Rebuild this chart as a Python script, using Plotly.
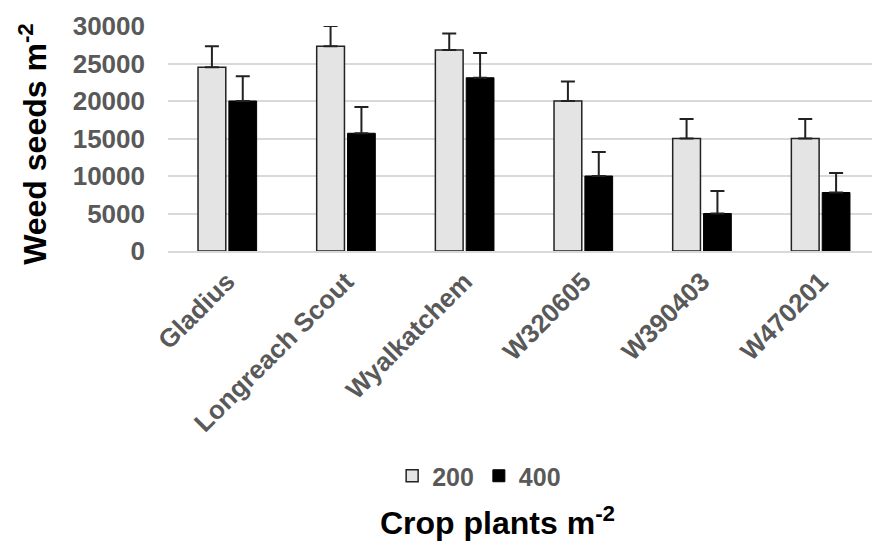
import plotly.graph_objects as go

cultivars = ["Gladius", "Longreach Scout", "Wyalkatchem", "W320605", "W390403", "W470201"]
seeds_200 = [24500, 27300, 26800, 20000, 15000, 15000]
err_200 = [2800, 2700, 2200, 2600, 2600, 2600]
seeds_400 = [20000, 15700, 23100, 10000, 5000, 7800]
err_400 = [3300, 3500, 3300, 3200, 3000, 2600]
y_ticks = [0, 5000, 10000, 15000, 20000, 25000, 30000]

FONT = "Liberation Sans, Arial, sans-serif"
GRAY = "#595959"

fig = go.Figure()
fig.add_trace(go.Bar(
    name="200", x=cultivars, y=seeds_200,
    marker=dict(color="#e4e4e4", line=dict(color="#222222", width=1.5)),
    error_y=dict(type="data", array=err_200, arrayminus=[0] * len(err_200),
                 symmetric=False, color="#222222", thickness=2, width=7),
))
fig.add_trace(go.Bar(
    name="400", x=cultivars, y=seeds_400,
    marker=dict(color="#000000", line=dict(color="#000000", width=1)),
    error_y=dict(type="data", array=err_400, arrayminus=[0] * len(err_400),
                 symmetric=False, color="#222222", thickness=2, width=7),
))

fig.update_layout(
    width=872, height=537,
    margin=dict(l=160, r=0, t=18, b=294),
    paper_bgcolor="white", plot_bgcolor="white",
    barmode="group", bargap=0.48, bargroupgap=0.1,
    font=dict(family=FONT, color=GRAY, size=24),
    showlegend=True,
    legend=dict(orientation="h", x=0.437, xanchor="center", y=-1.0, yanchor="middle",
                font=dict(family=FONT, size=25, color=GRAY, weight="bold"),
                itemwidth=30, traceorder="normal"),
    xaxis=dict(
        tickangle=-45, tickfont=dict(family=FONT, size=26, color=GRAY, weight="bold"),
        showline=True, linecolor="#d9d9d9", linewidth=2,
        ticks="", ticklabelstandoff=3,
    ),
    yaxis=dict(
        range=[0, 30000], tickvals=y_ticks, ticktext=[str(v) for v in y_ticks],
        tickfont=dict(family=FONT, size=26, color=GRAY, weight="bold"),
        showgrid=True, gridcolor="#d9d9d9", gridwidth=2,
        zeroline=False, ticks="", ticklabelstandoff=22,
    ),
    annotations=[
        dict(text="Weed seeds m<sup>-2</sup>", xref="paper", yref="paper",
             x=-0.19, y=0.475, textangle=-90, showarrow=False,
             xanchor="center", yanchor="middle", borderpad=0,
             font=dict(family=FONT, size=32, color="#000000", weight="bold")),
        dict(text="Crop plants m<sup>-2</sup>", xref="paper", yref="paper",
             x=0.463, y=-1.2, showarrow=False, xanchor="center", yanchor="middle",
             font=dict(family=FONT, size=32, color="#000000", weight="bold")),
    ],
)

fig.write_html("out.html")
